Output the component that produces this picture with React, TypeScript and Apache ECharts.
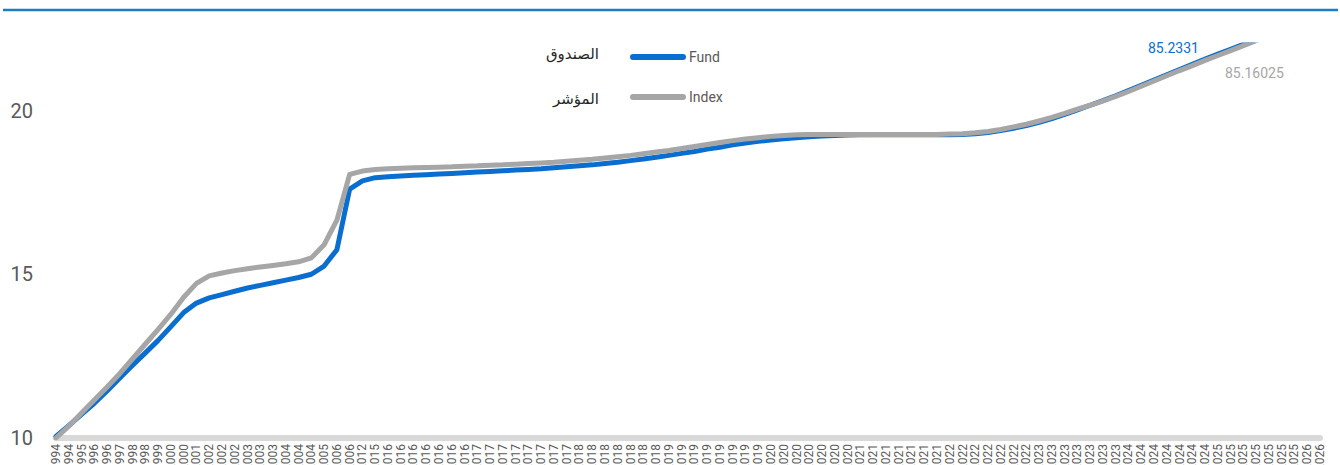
import React, { useEffect, useRef } from "react";
import * as echarts from "echarts";

const categories: string[] = [
  "1994", "1994", "1995", "1996", "1996", "1997", "1998", "1998", "1999", "2000",
  "2000", "2001", "2002", "2002", "2002", "2003", "2003", "2003", "2004", "2004",
  "2004", "2005", "2006", "2006", "2012", "2015", "2016", "2016", "2016", "2016",
  "2016", "2016", "2016", "2017", "2017", "2017", "2017", "2017", "2017", "2017",
  "2017", "2018", "2018", "2018", "2018", "2018", "2018", "2018", "2019", "2019",
  "2019", "2019", "2019", "2019", "2019", "2019", "2020", "2020", "2020", "2020",
  "2020", "2020", "2020", "2021", "2021", "2021", "2021", "2021", "2021", "2021",
  "2022", "2022", "2022", "2022", "2022", "2022", "2022", "2023", "2023", "2023",
  "2023", "2023", "2023", "2023", "2024", "2024", "2024", "2024", "2024", "2024",
  "2024", "2025", "2025", "2025", "2025", "2025", "2025", "2025", "2026", "2026",
];

const fundValues: number[] = [
  10.05, 10.38, 10.72, 11.06, 11.44, 11.83, 12.22, 12.6, 12.98, 13.4,
  13.83, 14.12, 14.28, 14.38, 14.48, 14.58, 14.66, 14.74, 14.82, 14.9,
  15.0, 15.25, 15.75, 17.6, 17.85, 17.95, 17.98, 18.0, 18.02, 18.04,
  18.06, 18.08, 18.1, 18.12, 18.14, 18.16, 18.18, 18.2, 18.22, 18.25,
  18.28, 18.31, 18.34, 18.38, 18.42, 18.47, 18.52, 18.57, 18.63, 18.69,
  18.75, 18.82, 18.88, 18.95, 19.01, 19.06, 19.1, 19.14, 19.17, 19.2,
  19.22, 19.24, 19.25, 19.26, 19.26, 19.26, 19.26, 19.26, 19.26, 19.26,
  19.26, 19.27, 19.29, 19.33, 19.39, 19.46, 19.54, 19.64, 19.75, 19.88,
  20.02, 20.16, 20.3, 20.45, 20.61, 20.77, 20.93, 21.09, 21.25, 21.41,
  21.57, 21.72, 21.87, 22.02, 22.17, 22.32, 22.47, 22.62, 22.77, 85.2331,
];

const indexValues: number[] = [
  10.0, 10.36, 10.76, 11.16, 11.56, 11.97, 12.42, 12.87, 13.32, 13.78,
  14.3, 14.72, 14.95, 15.04, 15.11, 15.17, 15.22, 15.27, 15.32, 15.38,
  15.5, 15.9, 16.65, 18.05, 18.15, 18.2, 18.22, 18.24, 18.25, 18.26,
  18.27, 18.28, 18.3, 18.31, 18.33, 18.34, 18.36, 18.38, 18.4, 18.42,
  18.45, 18.48, 18.51, 18.55, 18.59, 18.63, 18.68, 18.73, 18.78, 18.84,
  18.9, 18.96, 19.02, 19.08, 19.13, 19.17, 19.21, 19.24, 19.26, 19.27,
  19.27, 19.27, 19.27, 19.27, 19.27, 19.27, 19.27, 19.27, 19.27, 19.27,
  19.28, 19.29, 19.32, 19.36, 19.42, 19.5, 19.58, 19.68, 19.79, 19.91,
  20.04, 20.16, 20.29, 20.43, 20.58, 20.74, 20.9, 21.06, 21.22, 21.37,
  21.53, 21.68, 21.83, 21.98, 22.13, 22.28, 22.43, 22.58, 22.73, 85.16025,
];

const seriesNames = ["Fund", "Index"];
const arabicNames = ["الصندوق", "المؤشر"];
const yTicks = { min: 10, max: 22, interval: 5 };

const FUND_COLOR = "#0a6ed1";
const INDEX_COLOR = "#a6a6a6";
const TEXT_COLOR = "#595959";
const FONT = "Roboto, 'DejaVu Sans', sans-serif";

export default function App() {
  const ref = useRef<HTMLDivElement>(null);

  useEffect(() => {
    if (!ref.current) return;
    const chart = echarts.init(ref.current, undefined, { renderer: "svg" });
    const legendIcon = "path://M3,0 L53,0 A3,3 0 0 1 53,6 L3,6 A3,3 0 0 1 3,0 Z";
    chart.setOption({
      animation: false,
      backgroundColor: "#ffffff",
      textStyle: { fontFamily: FONT },
      grid: {
        left: 56,
        right: 20,
        top: 45,
        bottom: 27,
        containLabel: false,
        outerBoundsMode: "none",
      },
      legend: {
        data: seriesNames,
        orient: "vertical",
        left: 630,
        top: 50,
        itemWidth: 56,
        itemHeight: 6,
        itemGap: 26,
        icon: legendIcon,
        padding: 0,
        textStyle: { fontSize: 14, color: TEXT_COLOR, fontFamily: FONT, padding: [0, 0, 0, -2] },
      },
      xAxis: {
        type: "category",
        data: categories,
        boundaryGap: false,
        axisLine: { show: true, lineStyle: { color: "#d9d9d9", width: 6 } },
        axisTick: { show: false },
        splitLine: { show: false },
        axisLabel: {
          interval: 0,
          rotate: 90,
          fontSize: 12,
          color: TEXT_COLOR,
          margin: 6,
          fontFamily: FONT,
        },
      },
      yAxis: {
        type: "value",
        min: yTicks.min,
        max: yTicks.max,
        interval: yTicks.interval,
        axisLine: { show: false },
        axisTick: { show: false },
        splitLine: { show: false },
        axisLabel: {
          fontSize: 20,
          color: TEXT_COLOR,
          margin: 23,
          showMaxLabel: false,
          fontFamily: FONT,
        },
      },
      series: [
        {
          name: seriesNames[0],
          type: "line",
          data: fundValues,
          showSymbol: false,
          symbol: "none",
          clip: true,
          itemStyle: { color: FUND_COLOR },
          lineStyle: { color: FUND_COLOR, width: 5, join: "round", cap: "round" },
        },
        {
          name: seriesNames[1],
          type: "line",
          data: indexValues,
          showSymbol: false,
          symbol: "none",
          clip: true,
          itemStyle: { color: INDEX_COLOR },
          lineStyle: { color: INDEX_COLOR, width: 5, join: "round", cap: "round" },
        },
      ],
      graphic: [
        {
          type: "line",
          shape: { x1: 3, y1: 10, x2: 1338, y2: 10 },
          style: { stroke: "#1b7dc4", lineWidth: 2.5 },
          silent: true,
        },
        {
          type: "text",
          x: 599,
          y: 53,
          style: {
            text: arabicNames[0],
            textAlign: "right",
            textVerticalAlign: "middle",
            fontSize: 15,
            fill: "#262626",
            fontFamily: "'Noto Sans', 'DejaVu Sans', sans-serif",
          },
        },
        {
          type: "text",
          x: 599,
          y: 98,
          style: {
            text: arabicNames[1],
            textAlign: "right",
            textVerticalAlign: "middle",
            fontSize: 15,
            fill: "#262626",
            fontFamily: "'Noto Sans', 'DejaVu Sans', sans-serif",
          },
        },
        {
          type: "text",
          x: 1148,
          y: 48,
          style: {
            text: String(fundValues[fundValues.length - 1]),
            textAlign: "left",
            textVerticalAlign: "middle",
            fontSize: 14,
            fill: FUND_COLOR,
            fontFamily: FONT,
          },
        },
        {
          type: "text",
          x: 1225,
          y: 73,
          style: {
            text: String(indexValues[indexValues.length - 1]),
            textAlign: "left",
            textVerticalAlign: "middle",
            fontSize: 14,
            fill: INDEX_COLOR,
            fontFamily: FONT,
          },
        },
      ],
    });
    return () => chart.dispose();
  }, []);

  return (
    <div
      style={{ position: "fixed", left: 0, top: 0, width: 1340, height: 465, background: "#fff" }}
    >
      <div ref={ref} style={{ width: 1340, height: 465 }} />
    </div>
  );
}
